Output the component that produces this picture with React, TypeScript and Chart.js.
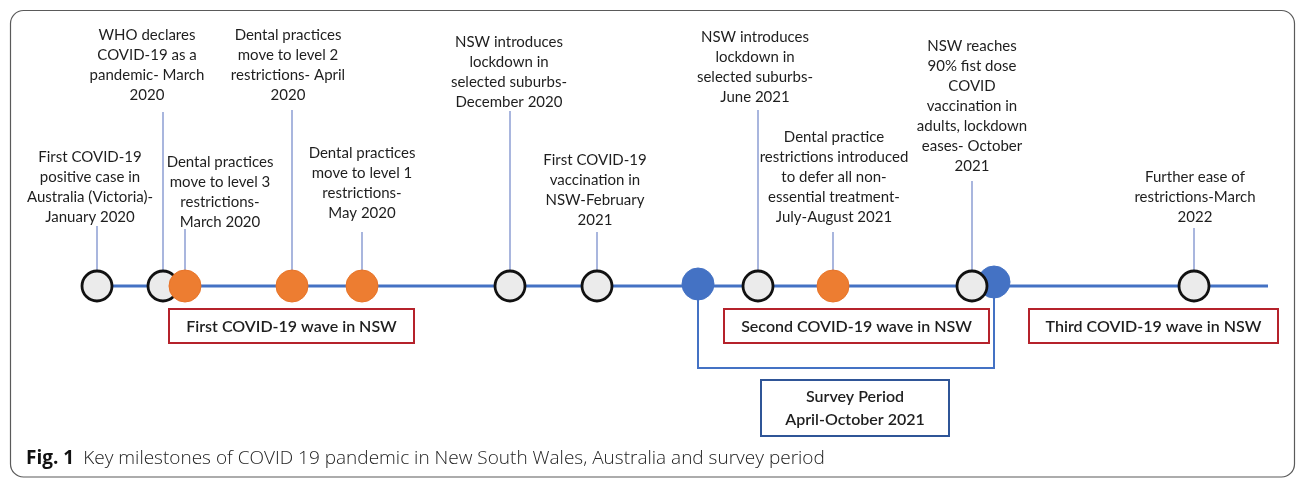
import React, { useEffect, useRef } from "react";
import { Chart, registerables } from "chart.js";

Chart.register(...registerables);

// Milestones along the timeline (schematic timeline position)
const milestoneLabels: string[] = [
  "First COVID-19\npositive case in\nAustralia (Victoria)-\nJanuary 2020",
  "WHO declares\nCOVID-19 as a\npandemic- March\n2020",
  "Dental practices\nmove to level 3\nrestrictions-\nMarch 2020",
  "Dental practices\nmove to level 2\nrestrictions- April\n2020",
  "Dental practices\nmove to level 1\nrestrictions-\nMay 2020",
  "NSW introduces\nlockdown in\nselected suburbs-\nDecember 2020",
  "First COVID-19\nvaccination in\nNSW-February\n2021",
  "NSW introduces\nlockdown in\nselected suburbs-\nJune 2021",
  "Dental practice\nrestrictions introduced\nto defer all non-\nessential treatment-\nJuly-August 2021",
  "NSW reaches\n90% fist dose\nCOVID\nvaccination in\nadults, lockdown\neases- October\n2021",
  "Further ease of\nrestrictions-March\n2022",
];
const milestonePos: number[] = [97, 163, 185, 292, 362, 510, 597, 758, 833, 972, 1194];
const milestoneKind: string[] = [
  "event", "event", "dental", "dental", "dental", "event", "event", "event", "dental", "event", "event",
];
const labelCenter: number[] = [90, 147, 220, 288, 362, 509, 595, 755, 834, 972, 1195];
const labelFirstLine: number[] = [157, 35, 162, 35, 153, 42, 160, 37, 137, 46, 177];
const connectorTop: number[] = [226, 112, 229, 110, 232, 111, 232, 110, 232, 181, 228];

// Survey period markers
const surveyPos: number[] = [698, 994];
const surveyLabel: string[] = ["Survey Period", "April-October 2021"];

// Waves
const waveLabels: string[] = [
  "First COVID-19 wave in NSW",
  "Second COVID-19 wave in NSW",
  "Third COVID-19 wave in NSW",
];
const waveStart: number[] = [169, 724, 1029];
const waveEnd: number[] = [414, 989, 1278];

const timelineStart = 97;
const timelineEnd = 1268;
const captionBold = "Fig. 1";
const captionText = "Key milestones of COVID 19 pandemic in New South Wales, Australia and survey period";

const LINE_Y = 286;
const LABEL_FONT = "Lato, 'Open Sans', sans-serif";

export default function App() {
  const ref = useRef<HTMLCanvasElement | null>(null);

  useEffect(() => {
    document.body.style.margin = "0";
    const canvas = ref.current;
    if (!canvas) return;

    const pt = (x: number, y: number) => ({ x, y });

    const connectorSets = milestonePos.map((x, i) => ({
      type: "scatter" as const,
      data: [pt(x, connectorTop[i]), pt(x, LINE_Y)],
      showLine: true,
      borderColor: "#8d9fd4",
      borderWidth: 1.5,
      pointRadius: 0,
      order: 7,
    }));

    const circleSet = (kind: string, fill: string, stroke: string, bw: number, r: number, order: number) => ({
      type: "scatter" as const,
      data: milestonePos
        .map((x, i) => (milestoneKind[i] === kind ? pt(x, LINE_Y) : null))
        .filter((p) => p !== null),
      showLine: false,
      pointRadius: r,
      pointBackgroundColor: fill,
      pointBorderColor: stroke,
      pointBorderWidth: bw,
      order,
    });

    const datasets: any[] = [
      circleSet("dental", "#ed7d31", "#e87428", 1, 16, 1),
      circleSet("event", "#ebebeb", "#111111", 2.8, 15, 2),
      {
        type: "scatter",
        data: surveyPos.map((x, i) => pt(x, i === 0 ? 284 : 282)),
        showLine: false,
        pointRadius: 16,
        pointBackgroundColor: "#4472c4",
        pointBorderColor: "#4472c4",
        pointBorderWidth: 1,
        order: 3,
      },
      {
        type: "scatter",
        data: [pt(surveyPos[0], 284), pt(surveyPos[0], 368), pt(surveyPos[1], 368), pt(surveyPos[1], 282)],
        showLine: true,
        borderColor: "#4472c4",
        borderWidth: 2,
        pointRadius: 0,
        order: 4,
      },
      {
        type: "scatter",
        data: [pt(timelineStart, LINE_Y), pt(timelineEnd, LINE_Y)],
        showLine: true,
        borderColor: "#4472c4",
        borderWidth: 3,
        pointRadius: 0,
        order: 6,
      },
      ...connectorSets,
    ];

    const decor = {
      id: "decor",
      beforeDraw(chart: any) {
        const { ctx } = chart;
        const sx = chart.scales.x;
        const sy = chart.scales.y;
        ctx.save();
        ctx.fillStyle = "#ffffff";
        ctx.fillRect(0, 0, chart.width, chart.height);
        const x0 = sx.getPixelForValue(10.5);
        const x1 = sx.getPixelForValue(1294.5);
        const y0 = sy.getPixelForValue(10.5);
        const y1 = sy.getPixelForValue(477);
        ctx.beginPath();
        (ctx as any).roundRect(x0, y0, x1 - x0, y1 - y0, 13);
        ctx.strokeStyle = "#5a5a5a";
        ctx.lineWidth = 1.2;
        ctx.stroke();
        ctx.restore();
      },
      afterDatasetsDraw(chart: any) {
        const { ctx } = chart;
        const sx = chart.scales.x;
        const sy = chart.scales.y;
        ctx.save();
        ctx.fillStyle = "#1e1e1e";
        ctx.textAlign = "center";
        ctx.textBaseline = "middle";
        ctx.font = `15px ${LABEL_FONT}`;
        milestoneLabels.forEach((label, i) => {
          label.split("\n").forEach((line, j) => {
            ctx.fillText(line, sx.getPixelForValue(labelCenter[i]), sy.getPixelForValue(labelFirstLine[i] + j * 20));
          });
        });

        // wave boxes
        waveLabels.forEach((label, i) => {
          const a = sx.getPixelForValue(waveStart[i]);
          const b = sx.getPixelForValue(waveEnd[i]);
          const t = sy.getPixelForValue(309);
          const btm = sy.getPixelForValue(343);
          ctx.fillStyle = "#ffffff";
          ctx.fillRect(a, t, b - a, btm - t);
          ctx.strokeStyle = "#b5222b";
          ctx.lineWidth = 2;
          ctx.strokeRect(a, t, b - a, btm - t);
          ctx.fillStyle = "#1e1e1e";
          ctx.font = `600 16px ${LABEL_FONT}`;
          ctx.fillText(label, (a + b) / 2, sy.getPixelForValue(327));
        });

        // survey box
        {
          const a = sx.getPixelForValue(761);
          const b = sx.getPixelForValue(949);
          const t = sy.getPixelForValue(380);
          const btm = sy.getPixelForValue(436);
          ctx.strokeStyle = "#2f5597";
          ctx.lineWidth = 2;
          ctx.strokeRect(a, t, b - a, btm - t);
          ctx.fillStyle = "#1e1e1e";
          ctx.font = `600 16px ${LABEL_FONT}`;
          surveyLabel.forEach((line, j) => {
            ctx.fillText(line, (a + b) / 2, sy.getPixelForValue(397 + j * 23));
          });
        }

        // caption
        ctx.textAlign = "left";
        ctx.font = "bold 19px 'Open Sans', sans-serif";
        ctx.fillStyle = "#111111";
        const cy = sy.getPixelForValue(459);
        const cx = sx.getPixelForValue(26);
        ctx.fillText(captionBold, cx, cy);
        const w = ctx.measureText(captionBold).width;
        ctx.font = "300 19px 'Open Sans', sans-serif";
        ctx.fillStyle = "#222222";
        ctx.fillText(captionText, cx + w + 9, cy);
        ctx.restore();
      },
    };

    const chart = new Chart(canvas, {
      type: "scatter",
      data: { datasets },
      options: {
        animation: false,
        responsive: false,
        maintainAspectRatio: false,
        devicePixelRatio: 1,
        events: [],
        layout: { padding: 0, autoPadding: false },
        plugins: { legend: { display: false }, tooltip: { enabled: false } },
        scales: {
          x: { type: "linear", display: false, min: 0, max: 1296 },
          y: { type: "linear", display: false, min: 0, max: 478, reverse: true },
        },
      },
      plugins: [decor],
    } as any);

    return () => chart.destroy();
  }, []);

  return (
    <div style={{ width: 1296, height: 478, background: "#fff" }}>
      <canvas ref={ref} width={1296} height={478} style={{ display: "block", width: 1296, height: 478 }} />
    </div>
  );
}
